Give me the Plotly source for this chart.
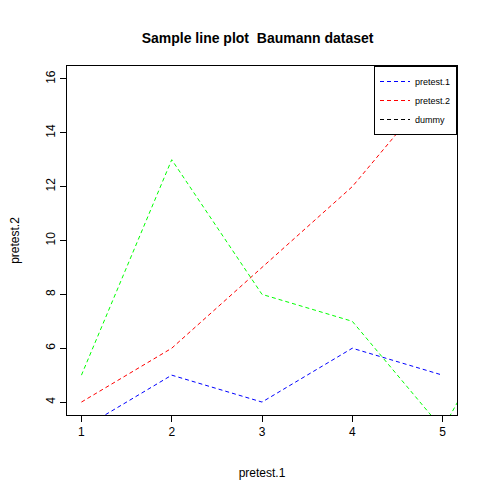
import plotly.graph_objects as go

x = [1, 2, 3, 4, 5, 6]
pretest_1 = [3, 5, 4, 6, 5]
pretest_2 = [4, 6, 9, 12, 16]
dummy = [5, 13, 8, 7, 3, 9]

dash = '4px,3px'
fig = go.Figure()
fig.add_trace(go.Scatter(x=x[:5], y=pretest_1, mode='lines', name='pretest.1',
                         line=dict(color='blue', dash=dash, width=1)))
fig.add_trace(go.Scatter(x=x[:5], y=pretest_2, mode='lines', name='pretest.2',
                         line=dict(color='red', dash=dash, width=1)))
fig.add_trace(go.Scatter(x=x, y=dummy, mode='lines', showlegend=False,
                         line=dict(color='#00ff00', dash=dash, width=1)))
fig.add_trace(go.Scatter(x=[None], y=[None], mode='lines', name='dummy',
                         line=dict(color='black', dash=dash, width=1)))

axis = dict(showgrid=False, zeroline=False, showline=True, mirror=True,
            linecolor='black', linewidth=1, ticks='outside', ticklen=6,
            tickcolor='black', tickfont=dict(size=12, color='black'),
            automargin=False)
fig.update_xaxes(axis, range=[0.84, 5.16], tickvals=[1, 2, 3, 4, 5],
                 title=dict(text='pretest.1', standoff=30,
                            font=dict(size=12, color='black')))
fig.update_yaxes(axis, range=[3.52, 16.48], tickvals=[4, 6, 8, 10, 12, 14, 16],
                 tickangle=-90,
                 title=dict(text='pretest.2', standoff=30,
                            font=dict(size=12, color='black')))
fig.update_layout(
    width=480, height=480, plot_bgcolor='white', paper_bgcolor='white',
    font=dict(family='Liberation Sans, Arial, sans-serif'),
    margin=dict(l=59, r=31, t=58, b=73),
    title=dict(text='<b>Sample line plot  Baumann dataset</b>', x=0.52, xanchor='center',
               y=0.937, yanchor='middle', font=dict(size=14, color='black')),
    legend=dict(x=1, y=1, xanchor='right', yanchor='top', bgcolor='white',
                bordercolor='black', borderwidth=1, font=dict(size=9, color='black'),
                tracegroupgap=0, itemwidth=30),
)
fig.write_html("out.html")
